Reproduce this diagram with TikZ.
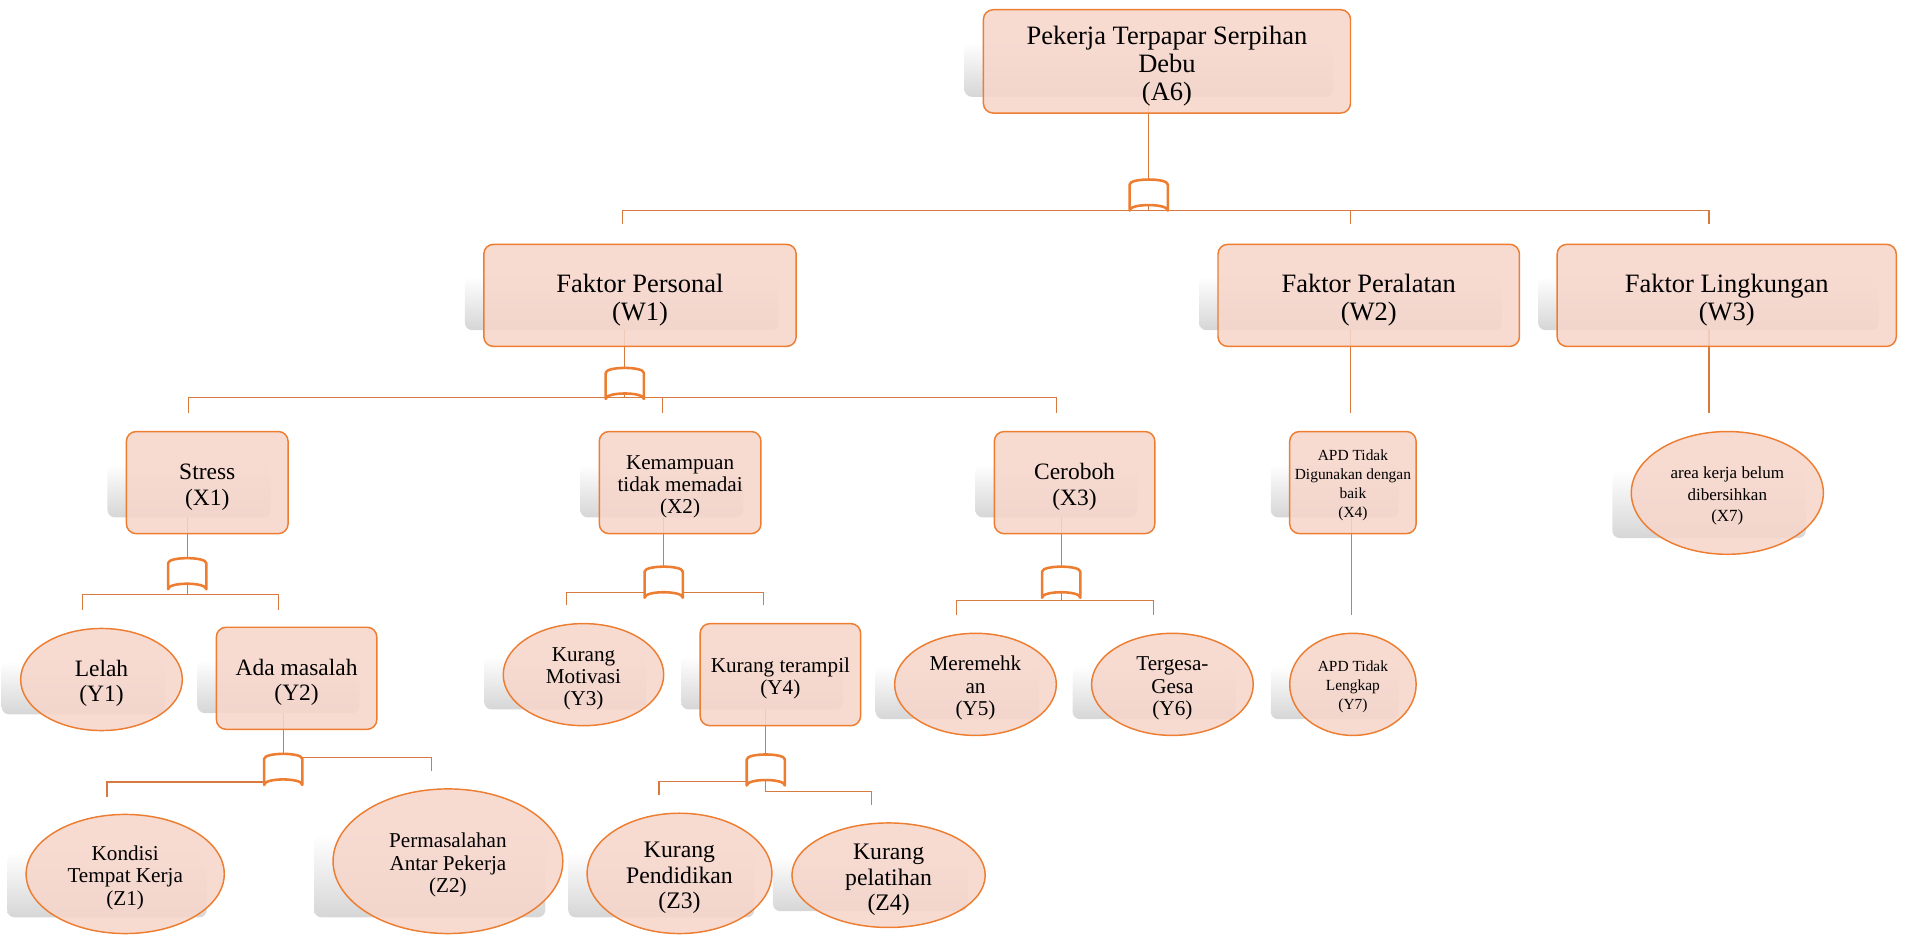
\documentclass[tikz,border=0pt]{standalone}
\usepackage{fontspec}
\setmainfont{Liberation Serif}
\usetikzlibrary{shapes.geometric,calc}

\definecolor{edge}{RGB}{237,125,49}
\definecolor{nodefill}{RGB}{246,213,202}
\definecolor{link}{RGB}{214,122,64}
\definecolor{shadowgray}{RGB}{214,214,214}

\pgfdeclarelayer{shade}
\pgfdeclarelayer{links}
\pgfsetlayers{shade,links,main}

% extra head room on the first line, so the text sits a little lower
\newcommand\toproom{\rule{0pt}{1.05em}}

\tikzset{
  card/.style={draw=edge, line width=1.2pt, fill=nodefill, fill opacity=0.88,
    text opacity=1, align=center},
  rbox/.style={card, rectangle, rounded corners=8pt, inner sep=0pt},
  oval/.style={card, ellipse, inner sep=-12pt},
  conn/.style={draw=link, line width=1.1pt},
  gatebox/.style={inner sep=0pt, minimum width=31pt, minimum height=25pt},
  gateline/.style={draw=edge, line width=2.1pt, line join=round},
  fA/.style={font=\fontsize{21.8}{23}\selectfont},
  fB/.style={font=\fontsize{19.3}{20.8}\selectfont},
  fC/.style={font=\fontsize{17.4}{18.4}\selectfont},
  fD/.style={font=\fontsize{12.7}{15.6}\selectfont},
  fE/.style={font=\fontsize{14}{17.5}\selectfont},
  fF/.style={font=\fontsize{19.5}{21}\selectfont},
}

% soft grey plate behind a node, offset to the left
\newcommand\castshade[1]{%
  \begin{pgfonlayer}{shade}
    \shade[top color=white, bottom color=shadowgray, rounded corners=6pt]
      let \p1=(#1.north -| #1.west), \p2=(#1.south -| #1.east) in
      (\x1-15pt,\y2+14pt) rectangle (\x2-15pt,{\y1-0.32*(\y1-\y2)});
  \end{pgfonlayer}}

% AND gate symbol: domed top, concave bottom
\newcommand\andgate[3]{%
  \node[gatebox] (#1) at (#2,#3) {};
  \draw[gateline] (#1.south west) -- ($(#1.north west)+(0,4)$)
    .. controls ($(#1.north west)+(0,-1.5)$) and ($(#1.north east)+(0,-1.5)$) .. ($(#1.north east)+(0,4)$)
    -- (#1.south east)
    .. controls ($(#1.south east)+(0,-6)$) and ($(#1.south west)+(0,-6)$) .. cycle;}

\begin{document}
\begin{tikzpicture}[x=1pt, y=-1pt]
\useasboundingbox (0,0) rectangle (1568,770);

% ---- top event
\node[rbox, minimum width=302pt, minimum height=85pt, fA] (A6) at (960,50.5) {\toproom Pekerja Terpapar Serpihan\\Debu\\(A6)};

% ---- factors
\node[rbox, minimum width=257pt, minimum height=84pt, fA] (W1) at (526.5,243) {\toproom Faktor Personal\\(W1)};
\node[rbox, minimum width=248pt, minimum height=84pt, fA] (W2) at (1126,243) {\toproom Faktor Peralatan\\(W2)};
\node[rbox, minimum width=279pt, minimum height=84pt, fA] (W3) at (1420.5,243) {\toproom Faktor Lingkungan\\(W3)};

% ---- intermediate events
\node[rbox, minimum width=133pt, minimum height=84pt, fB] (X1) at (170.5,397) {\toproom Stress\\(X1)};
\node[rbox, minimum width=133pt, minimum height=84pt, fC] (X2) at (559.5,397) {\toproom Kemampuan\\tidak memadai\\(X2)};
\node[rbox, minimum width=132pt, minimum height=84pt, fB] (X3) at (884,397) {\toproom Ceroboh\\(X3)};
\node[rbox, minimum width=104pt, minimum height=84pt, fD] (X4) at (1113,397) {\toproom APD Tidak\\Digunakan dengan\\baik\\(X4)};
\node[oval, minimum width=158pt, minimum height=101pt, fE] (X7) at (1421,405.5) {\toproom area kerja belum\\dibersihkan\\(X7)};

\node[oval, minimum width=133pt, minimum height=84pt, fB] (Y1) at (83.5,559) {\toproom Lelah\\(Y1)};
\node[rbox, minimum width=132pt, minimum height=84pt, fB] (Y2) at (244,558) {\toproom Ada masalah\\(Y2)};
\node[oval, minimum width=132pt, minimum height=84pt, fC] (Y3) at (480,555) {\toproom Kurang\\Motivasi\\(Y3)};
\node[rbox, minimum width=132pt, minimum height=84pt, fC] (Y4) at (642,555) {\toproom Kurang terampil\\(Y4)};
\node[oval, minimum width=133pt, minimum height=84pt, fC] (Y5) at (802.5,563) {\toproom Meremehk\\an\\(Y5)};
\node[oval, minimum width=133pt, minimum height=84pt, fC] (Y6) at (964.5,563) {\toproom Tergesa-\\Gesa\\(Y6)};
\node[oval, minimum width=104pt, minimum height=84pt, fD] (Y7) at (1113,563) {\toproom APD Tidak\\Lengkap\\(Y7)};

% ---- basic events
\node[oval, minimum width=163pt, minimum height=98pt, fC] (Z1) at (103,719) {\toproom Kondisi\\Tempat Kerja\\(Z1)};
\node[oval, minimum width=189pt, minimum height=119pt, fC] (Z2) at (368.5,708.5) {\toproom Permasalahan\\Antar Pekerja\\(Z2)};
\node[oval, minimum width=152pt, minimum height=99pt, fF] (Z3) at (559,718.5) {\toproom Kurang\\Pendidikan\\(Z3)};
\node[oval, minimum width=159pt, minimum height=86pt, fF] (Z4) at (731,720) {\toproom Kurang\\pelatihan\\(Z4)};

\foreach \nd in {A6,W1,W2,W3,X1,X2,X3,X4,X7,Y1,Y2,Y3,Y4,Y5,Y6,Y7,Z1,Z2,Z3,Z4}{\castshade{\nd}}

% ---- gates
\andgate{gA6}{945}{160.5}
\andgate{gW1}{514}{315.5}
\andgate{gX1}{154}{472}
\andgate{gX2}{546}{479}
\andgate{gX3}{873}{479}
\andgate{gY2}{233}{633}
\andgate{gY4}{630}{633.5}

% ---- junctions and connector ends
\coordinate (jA6) at (945,173);
\coordinate (tW1) at (512,184);
\coordinate (tW2) at (1111,184);
\coordinate (tW3) at (1406,184);
\coordinate (jW1) at (514,327);
\coordinate (tX1) at (155,340);
\coordinate (tX2) at (545,340);
\coordinate (tX3) at (869,340);
\coordinate (tX4) at (1111,340);
\coordinate (tX7) at (1406,340);
\coordinate (jX1) at (154,489);
\coordinate (tY1) at (68,502);
\coordinate (tY2) at (229,502);
\coordinate (tY3) at (466,498);
\coordinate (tY4) at (628,498);
\coordinate (jX3) at (873,494);
\coordinate (tY5) at (787,506);
\coordinate (tY6) at (949,506);
\coordinate (tY7) at (1112,506);
\coordinate (tZ1) at (88,656);
\coordinate (tZ2) at (355,634);
\coordinate (jY4) at (630,651);
\coordinate (tZ3) at (542,654);
\coordinate (tZ4) at (717,662);

\begin{pgfonlayer}{links}
  % A6
  \draw[conn] ($(gA6.north |- A6.south)+(0,-14)$) -- (gA6.north);
  \draw[conn] ($(gA6.south)+(0,-4.5)$) -- (jA6);
  \draw[conn] (tW1) |- (jA6) -| (tW3);
  \draw[conn] (jA6 -| tW2) -- (tW2);
  % W1
  \draw[conn] ($(gW1.north |- W1.south)+(0,-15)$) -- (gW1.north);
  \draw[conn] ($(gW1.south)+(0,-4.5)$) -- (jW1);
  \draw[conn] (tX1) |- (jW1) -| (tX3);
  \draw[conn] (jW1 -| tX2) -- (tX2);
  % W2, W3
  \draw[conn] ($(tX4 |- W2.south)+(0,-15)$) -- (tX4);
  \draw[conn] ($(tX7 |- W3.south)+(0,-15)$) -- (tX7);
  % X1
  \draw[conn] ($(gX1.north |- X1.south)+(0,-14)$) -- (gX1.north);
  \draw[conn] ($(gX1.south)+(0,-4.5)$) -- (jX1);
  \draw[conn] (tY1) |- (jX1) -| (tY2);
  % X2
  \draw[conn] ($(gX2.north |- X2.south)+(0,-14)$) -- (gX2.north);
  \draw[conn] (tY3) |- ($(gX2.south west)+(0,-4.5)$);
  \draw[conn] (tY4) |- ($(gX2.south east)+(0,-4.5)$);
  % X3
  \draw[conn] ($(gX3.north |- X3.south)+(0,-14)$) -- (gX3.north);
  \draw[conn] ($(gX3.south)+(0,-4.5)$) -- (jX3);
  \draw[conn] (tY5) |- (jX3) -| (tY6);
  % X4
  \draw[conn] ($(tY7 |- X4.south)+(0,-14)$) -- (tY7);
  % Y2
  \draw[conn] ($(gY2.north |- Y2.south)+(0,-14)$) -- (gY2.north);
  \draw[conn] (tZ1) |- ($(gY2.south west)+(0,-2.5)$);
  \draw[conn] (tZ2) |- ($(gY2.north east)+(0,3)$);
  % Y4
  \draw[conn] ($(gY4.north |- Y4.south)+(0,-14)$) -- (gY4.north);
  \draw[conn] (tZ3) |- ($(gY4.south west)+(0,-3.5)$);
  \draw[conn] ($(gY4.south)+(0,-4.5)$) -- (jY4) -| (tZ4);
\end{pgfonlayer}
\end{tikzpicture}
\end{document}
